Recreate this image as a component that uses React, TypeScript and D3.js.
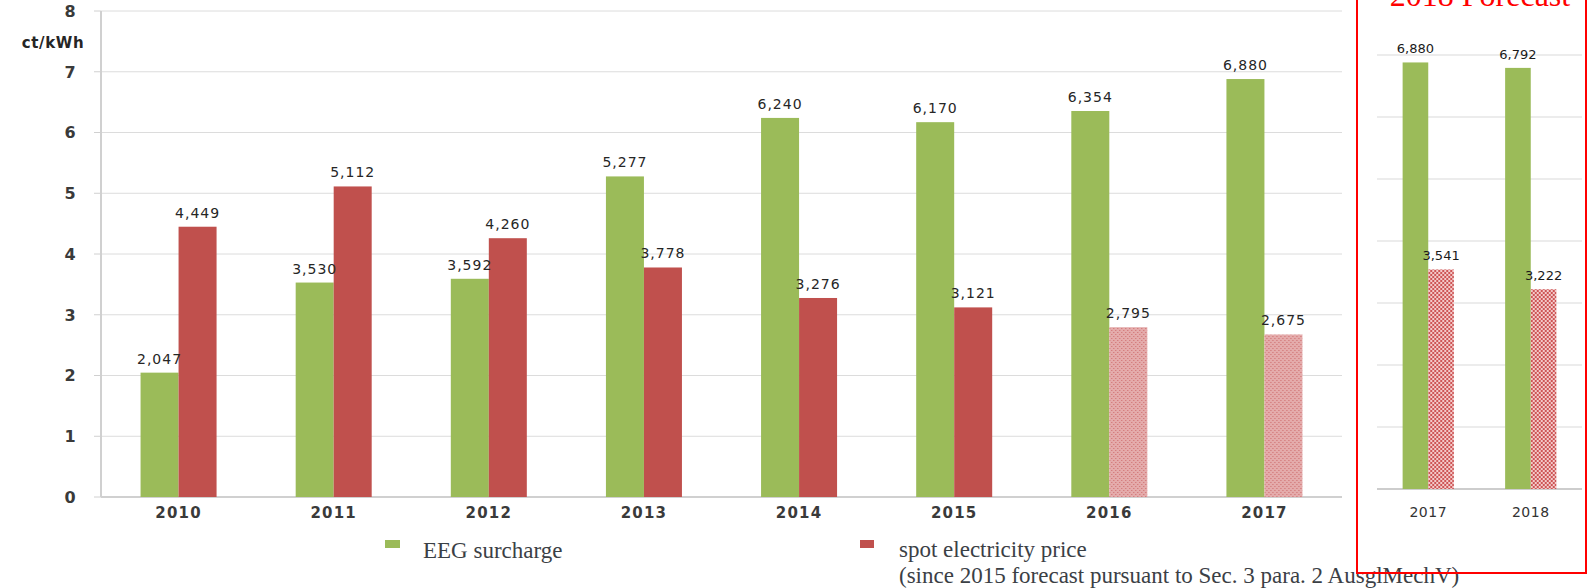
import { useEffect, useRef } from 'react';
import * as d3 from 'd3';

// chart data
const years = ['2010', '2011', '2012', '2013', '2014', '2015', '2016', '2017'];
const eegSurcharge = [2.047, 3.53, 3.592, 5.277, 6.24, 6.17, 6.354, 6.88];
const spotPrice = [4.449, 5.112, 4.26, 3.778, 3.276, 3.121, 2.795, 2.675];
const forecastYears = ['2016', '2017'];
const yTicks = [0, 1, 2, 3, 4, 5, 6, 7, 8];

// 2018 forecast inset
const insetYears = ['2017', '2018'];
const insetEeg = [6.88, 6.792];
const insetSpot = [3.541, 3.222];
const insetGrid = [1, 2, 3, 4, 5, 6, 7];

const GREEN = '#9bbb59';
const RED = '#c0504d';

const fmt = (v: number) => d3.format('.3f')(v).replace('.', ',');

const App = () => {
  const svgRef = useRef<SVGSVGElement>(null);

  useEffect(() => {
    const svg = d3.select(svgRef.current);
    svg.selectAll('*').remove();

    const defs = svg.append('defs');

    // light hatched pattern for forecast bars
    const p1 = defs.append('pattern')
      .attr('id', 'forecastLight')
      .attr('width', 4)
      .attr('height', 4)
      .attr('patternUnits', 'userSpaceOnUse');
    p1.append('rect').attr('width', 4).attr('height', 4).attr('fill', '#e4abab');
    p1.append('rect').attr('x', 0).attr('y', 0).attr('width', 1).attr('height', 1).attr('fill', '#cc6a6a');
    p1.append('rect').attr('x', 2).attr('y', 2).attr('width', 1).attr('height', 1).attr('fill', '#cc6a6a');

    // dense checker pattern for inset
    const p2 = defs.append('pattern')
      .attr('id', 'forecastDense')
      .attr('width', 4)
      .attr('height', 4)
      .attr('patternUnits', 'userSpaceOnUse');
    p2.append('rect').attr('width', 4).attr('height', 4).attr('fill', '#f3caca');
    p2.append('rect').attr('x', 0).attr('y', 0).attr('width', 2).attr('height', 2).attr('fill', '#cd5555');
    p2.append('rect').attr('x', 2).attr('y', 2).attr('width', 2).attr('height', 2).attr('fill', '#cd5555');

    // ---- main chart ----
    const x = d3.scaleBand().domain(years).range([101, 1342]);
    const y = d3.scaleLinear().domain([0, 8]).range([497, 11]);
    const barW = x.bandwidth() * 0.245;

    const main = svg.append('g');

    // grid lines
    main.selectAll('.grid')
      .data(yTicks.filter(d => d > 0))
      .enter()
      .append('line')
      .attr('x1', 101)
      .attr('x2', 1342)
      .attr('y1', d => y(d))
      .attr('y2', d => y(d))
      .attr('stroke', '#dcdcdc')
      .attr('stroke-width', 1);

    // tick marks
    main.selectAll('.tick')
      .data(yTicks)
      .enter()
      .append('line')
      .attr('x1', 94)
      .attr('x2', 101)
      .attr('y1', d => y(d))
      .attr('y2', d => y(d))
      .attr('stroke', '#d0d0d0');

    // axis lines
    main.append('line')
      .attr('x1', 101).attr('x2', 101)
      .attr('y1', y(8)).attr('y2', y(0))
      .attr('stroke', '#d0d0d0').attr('stroke-width', 2);
    main.append('line')
      .attr('x1', 101).attr('x2', 1342)
      .attr('y1', y(0)).attr('y2', y(0))
      .attr('stroke', '#d0d0d0').attr('stroke-width', 2);

    // y tick labels
    main.selectAll('.ylab')
      .data(yTicks)
      .enter()
      .append('text')
      .attr('x', 70)
      .attr('y', d => y(d))
      .attr('dy', '0.36em')
      .attr('text-anchor', 'middle')
      .style('font-family', 'DejaVu Sans')
      .style('font-weight', 'bold')
      .style('font-size', '16px')
      .style('fill', '#3a3a3a')
      .text(d => d);

    main.append('text')
      .attr('x', 53)
      .attr('y', 48)
      .attr('text-anchor', 'middle')
      .style('font-family', 'DejaVu Sans')
      .style('font-weight', 'bold')
      .style('font-size', '15px')
      .style('letter-spacing', '0.6px')
      .style('fill', '#262626')
      .text('ct/kWh');

    const groups = main.selectAll('.grp')
      .data(years)
      .enter()
      .append('g')
      .attr('transform', d => `translate(${x(d)! + x.bandwidth() / 2},0)`);

    groups.append('rect')
      .attr('x', -barW)
      .attr('width', barW)
      .attr('y', (d, i) => y(eegSurcharge[i]))
      .attr('height', (d, i) => y(0) - y(eegSurcharge[i]))
      .attr('fill', GREEN);

    groups.append('rect')
      .attr('x', 0)
      .attr('width', barW)
      .attr('y', (d, i) => y(spotPrice[i]))
      .attr('height', (d, i) => y(0) - y(spotPrice[i]))
      .attr('fill', d => forecastYears.includes(d) ? 'url(#forecastLight)' : RED);

    const valueLabel = (sel: any) => sel
      .attr('text-anchor', 'middle')
      .style('font-family', 'DejaVu Sans')
      .style('font-size', '14px')
      .style('letter-spacing', '1px')
      .style('fill', '#262626');

    groups.append('text')
      .attr('x', -barW / 2)
      .attr('y', (d, i) => y(eegSurcharge[i]) - 9)
      .call(valueLabel)
      .text((d, i) => fmt(eegSurcharge[i]));

    groups.append('text')
      .attr('x', barW / 2)
      .attr('y', (d, i) => y(spotPrice[i]) - 9)
      .call(valueLabel)
      .text((d, i) => fmt(spotPrice[i]));

    groups.append('text')
      .attr('x', 0)
      .attr('y', 518)
      .attr('text-anchor', 'middle')
      .style('font-family', 'DejaVu Sans')
      .style('font-weight', 'bold')
      .style('font-size', '15px')
      .style('letter-spacing', '1.2px')
      .style('fill', '#3a3a3a')
      .text(d => d);

    // ---- legend ----
    const legendFont = (sel: any) => sel
      .style('font-family', 'Liberation Serif')
      .style('font-size', '23px')
      .style('fill', '#3b4045');

    svg.append('rect').attr('x', 385).attr('y', 540).attr('width', 15).attr('height', 8).attr('fill', GREEN);
    svg.append('text').attr('x', 423).attr('y', 558).call(legendFont).text('EEG surcharge');

    svg.append('rect').attr('x', 860).attr('y', 540).attr('width', 14).attr('height', 8).attr('fill', RED);
    svg.append('text').attr('x', 899).attr('y', 557).call(legendFont).text('spot electricity price');
    svg.append('text').attr('x', 899).attr('y', 583).call(legendFont)
      .text('(since 2015 forecast pursuant to Sec. 3 para. 2 AusglMechV)');

    // ---- 2018 forecast inset ----
    const xi = d3.scaleBand().domain(insetYears).range([1377, 1582]);
    const yi = d3.scaleLinear().domain([0, 7]).range([489, 55]);
    const bw = xi.bandwidth() * 0.25;

    const inset = svg.append('g');

    inset.selectAll('.igrid')
      .data(insetGrid)
      .enter()
      .append('line')
      .attr('x1', 1377)
      .attr('x2', 1582)
      .attr('y1', d => yi(d))
      .attr('y2', d => yi(d))
      .attr('stroke', '#d9d9d9');

    inset.append('line')
      .attr('x1', 1377).attr('x2', 1582)
      .attr('y1', yi(0)).attr('y2', yi(0))
      .attr('stroke', '#bdbdbd').attr('stroke-width', 1.5);

    const ig = inset.selectAll('.igrp')
      .data(insetYears)
      .enter()
      .append('g')
      .attr('transform', d => `translate(${xi(d)! + xi.bandwidth() / 2},0)`);

    ig.append('rect')
      .attr('x', -bw)
      .attr('width', bw)
      .attr('y', (d, i) => yi(insetEeg[i]))
      .attr('height', (d, i) => yi(0) - yi(insetEeg[i]))
      .attr('fill', GREEN);

    ig.append('rect')
      .attr('x', 0)
      .attr('width', bw)
      .attr('y', (d, i) => yi(insetSpot[i]))
      .attr('height', (d, i) => yi(0) - yi(insetSpot[i]))
      .attr('fill', 'url(#forecastDense)');

    const insetLabel = (sel: any) => sel
      .attr('text-anchor', 'middle')
      .style('font-family', 'DejaVu Sans')
      .style('font-size', '13px')
      .style('fill', '#1a1a1a');

    ig.append('text')
      .attr('x', -bw / 2)
      .attr('y', (d, i) => yi(insetEeg[i]) - 9)
      .call(insetLabel)
      .text((d, i) => fmt(insetEeg[i]));

    ig.append('text')
      .attr('x', bw / 2)
      .attr('y', (d, i) => yi(insetSpot[i]) - 9)
      .call(insetLabel)
      .text((d, i) => fmt(insetSpot[i]));

    ig.append('text')
      .attr('x', 0)
      .attr('y', 517)
      .call(insetLabel)
      .style('font-size', '14px')
      .style('letter-spacing', '0.5px')
      .style('fill', '#333')
      .text(d => d);

    // red frame and title
    svg.append('rect')
      .attr('x', 1357)
      .attr('y', -20)
      .attr('width', 229)
      .attr('height', 593)
      .attr('fill', 'none')
      .attr('stroke', '#ff0000')
      .attr('stroke-width', 2);

    svg.append('text')
      .attr('x', 1480)
      .attr('y', 6)
      .attr('text-anchor', 'middle')
      .style('font-family', 'Liberation Serif')
      .style('font-size', '32px')
      .style('fill', '#ff0000')
      .text('2018 Forecast');
  }, []);

  return (
    <svg
      ref={svgRef}
      width={1587}
      height={588}
      style={{ position: 'absolute', left: 0, top: 0, background: '#fff' }}
    />
  );
};

export default App;
